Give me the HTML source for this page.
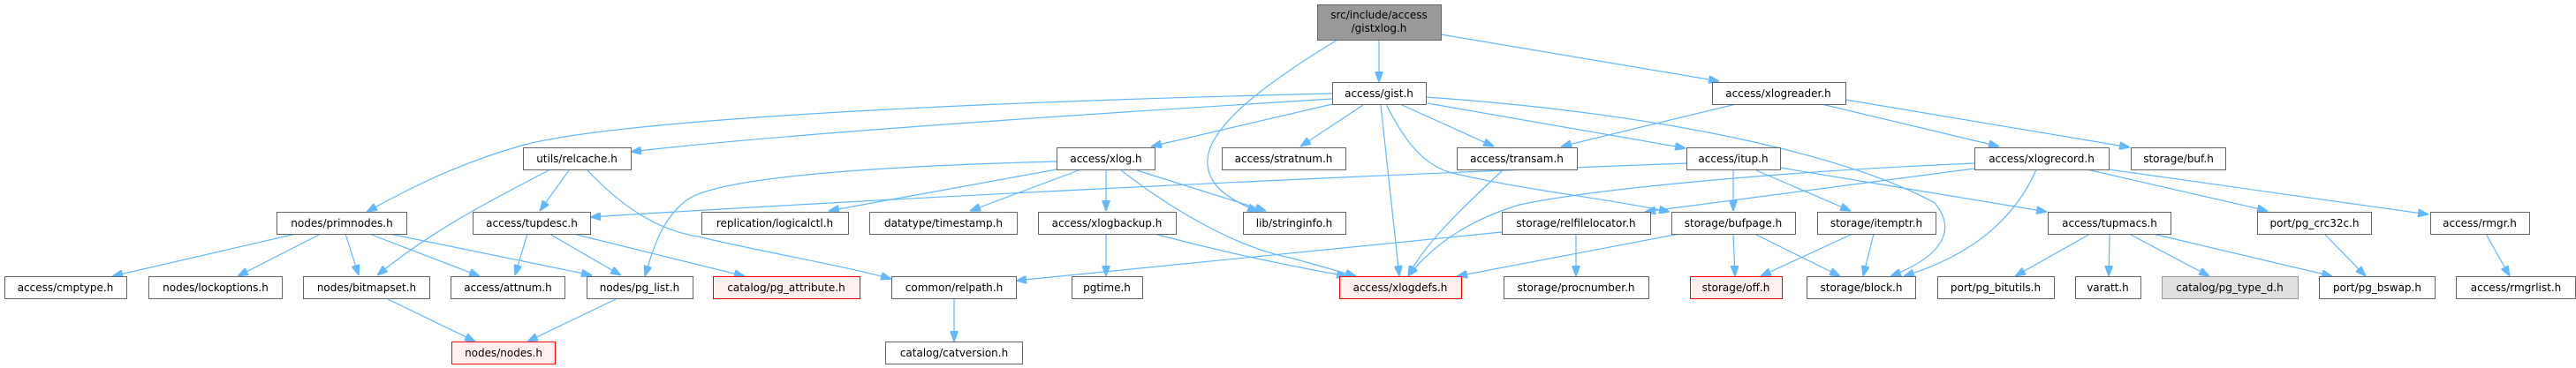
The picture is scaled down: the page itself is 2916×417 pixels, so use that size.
<!DOCTYPE html>
<html><head><meta charset="utf-8"><style>
html,body{margin:0;padding:0;background:#fff}
svg{display:block}
text{font-family:"DejaVu Sans","Liberation Sans",sans-serif;font-size:12px;fill:#000;text-anchor:middle}
.n{fill:#fff;stroke:#666;stroke-width:1}
.r{fill:#fff0f0;stroke:#f00;stroke-width:1}
.g{fill:#999;stroke:#666;stroke-width:1}
.l{fill:#e0e0e0;stroke:#999;stroke-width:1}
path{fill:none;stroke:#63b8ff;stroke-width:1.2}
</style></head><body>
<svg width="2916" height="417" viewBox="0 0 2916 417" xmlns="http://www.w3.org/2000/svg">
<defs><marker id="a" viewBox="0 0 12 9" refX="12" refY="4.5" markerWidth="12" markerHeight="9" markerUnits="userSpaceOnUse" orient="auto"><path d="M0,0 L12,4.5 L0,9 z" style="fill:#63b8ff;stroke:#63b8ff"/></marker></defs>
<g marker-end="url(#a)">
<path d="M1561,45 L1561,93"/>
<path d="M1631,39 L1946,92"/>
<path d="M1514,45 C1440,90 1370,140 1367,180 C1365,210 1390,225 1424,240"/>
<path d="M1508,112 C1300,125 900,150 714,172"/>
<path d="M1508,106 C1000,118 680,140 590,165 C520,185 470,210 415,240"/>
<path d="M1508,118 L1303,166"/>
<path d="M1543,119 L1472,166"/>
<path d="M1587,119 L1691,166"/>
<path d="M1616,117 L1908,168"/>
<path d="M1563,119 L1584,313"/>
<path d="M1569,118 C1590,160 1610,185 1640,195 C1720,215 1820,225 1890,240"/>
<path d="M1614,110 C1900,130 2100,180 2190,230 C2215,260 2200,290 2140,313"/>
<path d="M1965,118 L1767,166"/>
<path d="M2062,118 L2263,166"/>
<path d="M2089,113 L2411,167"/>
<path d="M644,193 L611,239"/>
<path d="M621,193 C560,225 490,260 427,312"/>
<path d="M665,193 C700,230 740,260 790,268 C860,285 950,300 1009,316"/>
<path d="M1196,183 C1000,188 820,200 780,225 C750,245 740,280 730,313"/>
<path d="M1196,192 L938,239"/>
<path d="M1221,193 L1098,239"/>
<path d="M1252,193 L1252,239"/>
<path d="M1287,193 L1433,239"/>
<path d="M1269,193 C1330,240 1400,280 1460,292 C1490,300 1510,306 1535,313"/>
<path d="M1909,185 C1500,200 1000,225 668,246"/>
<path d="M1962,193 L1962,239"/>
<path d="M1988,193 L2095,239"/>
<path d="M2015,190 L2317,240"/>
<path d="M2235,185 C2000,195 1800,215 1720,232 C1660,250 1620,280 1594,313"/>
<path d="M2235,191 L1862,240"/>
<path d="M2305,192 C2280,250 2230,290 2155,313"/>
<path d="M2362,192 L2567,239"/>
<path d="M2387,192 L2749,243"/>
<path d="M597,265 L583,312"/>
<path d="M622,265 L703,312"/>
<path d="M649,265 L843,313"/>
<path d="M335,265 L127,313"/>
<path d="M363,265 L269,313"/>
<path d="M391,265 L406,312"/>
<path d="M418,265 L543,313"/>
<path d="M441,265 L670,312"/>
<path d="M439,339 L538,387"/>
<path d="M697,339 L597,387"/>
<path d="M1252,265 L1252,313"/>
<path d="M1307,265 C1400,290 1480,305 1525,313"/>
<path d="M1080,339 L1080,387"/>
<path d="M1701,193 C1650,240 1610,280 1594,313"/>
<path d="M1784,265 L1784,313"/>
<path d="M1700,263 L1150,318"/>
<path d="M1901,265 L1649,313"/>
<path d="M1962,265 L1964,313"/>
<path d="M1986,265 L2083,313"/>
<path d="M2097,265 L1993,313"/>
<path d="M2121,265 L2109,313"/>
<path d="M2366,265 L2281,313"/>
<path d="M2388,265 L2387,313"/>
<path d="M2410,265 L2501,313"/>
<path d="M2437,265 L2640,313"/>
<path d="M2631,265 L2678,313"/>
<path d="M2814,265 L2841,313"/>
</g>
<rect class="g" x="1491.5" y="5.5" width="140" height="40"/><text x="1561" y="21">src/include/access</text><text x="1561" y="36">/gistxlog.h</text>
<rect class="n" x="1508.5" y="93.5" width="106" height="25"/><text x="1561" y="110">access/gist.h</text>
<rect class="n" x="1938.5" y="93.5" width="151" height="25"/><text x="2013" y="110">access/xlogreader.h</text>
<rect class="n" x="592.5" y="167.5" width="122" height="25"/><text x="653" y="184">utils/relcache.h</text>
<rect class="n" x="1196.5" y="167.5" width="111" height="25"/><text x="1252" y="184">access/xlog.h</text>
<rect class="n" x="1383.5" y="167.5" width="140" height="25"/><text x="1453" y="184">access/stratnum.h</text>
<rect class="n" x="1649.5" y="167.5" width="136" height="25"/><text x="1717" y="184">access/transam.h</text>
<rect class="n" x="1909.5" y="167.5" width="106" height="25"/><text x="1962" y="184">access/itup.h</text>
<rect class="n" x="2235.5" y="167.5" width="152" height="25"/><text x="2311" y="184">access/xlogrecord.h</text>
<rect class="n" x="2412.5" y="167.5" width="107" height="25"/><text x="2466" y="184">storage/buf.h</text>
<rect class="n" x="313.5" y="240.5" width="147" height="25"/><text x="387" y="257">nodes/primnodes.h</text>
<rect class="n" x="535.5" y="240.5" width="133" height="25"/><text x="602" y="257">access/tupdesc.h</text>
<rect class="n" x="794.5" y="240.5" width="166" height="25"/><text x="877" y="257">replication/logicalctl.h</text>
<rect class="n" x="984.5" y="240.5" width="167" height="25"/><text x="1068" y="257">datatype/timestamp.h</text>
<rect class="n" x="1175.5" y="240.5" width="156" height="25"/><text x="1253" y="257">access/xlogbackup.h</text>
<rect class="n" x="1407.5" y="240.5" width="116" height="25"/><text x="1465" y="257">lib/stringinfo.h</text>
<rect class="n" x="1700.5" y="240.5" width="168" height="25"/><text x="1784" y="257">storage/relfilelocator.h</text>
<rect class="n" x="1892.5" y="240.5" width="140" height="25"/><text x="1962" y="257">storage/bufpage.h</text>
<rect class="n" x="2057.5" y="240.5" width="134" height="25"/><text x="2124" y="257">storage/itemptr.h</text>
<rect class="n" x="2318.5" y="240.5" width="139" height="25"/><text x="2388" y="257">access/tupmacs.h</text>
<rect class="n" x="2555.5" y="240.5" width="129" height="25"/><text x="2620" y="257">port/pg_crc32c.h</text>
<rect class="n" x="2751.5" y="240.5" width="112" height="25"/><text x="2807" y="257">access/rmgr.h</text>
<rect class="n" x="5.5" y="313.5" width="138" height="25"/><text x="74" y="330">access/cmptype.h</text>
<rect class="n" x="168.5" y="313.5" width="151" height="25"/><text x="244" y="330">nodes/lockoptions.h</text>
<rect class="n" x="343.5" y="313.5" width="143" height="25"/><text x="415" y="330">nodes/bitmapset.h</text>
<rect class="n" x="510.5" y="313.5" width="129" height="25"/><text x="575" y="330">access/attnum.h</text>
<rect class="n" x="664.5" y="313.5" width="120" height="25"/><text x="724" y="330">nodes/pg_list.h</text>
<rect class="r" x="807.5" y="313.5" width="166" height="25"/><text x="890" y="330">catalog/pg_attribute.h</text>
<rect class="n" x="1009.5" y="313.5" width="141" height="25"/><text x="1080" y="330">common/relpath.h</text>
<rect class="n" x="1213.5" y="313.5" width="80" height="25"/><text x="1253" y="330">pgtime.h</text>
<rect class="r" x="1516.5" y="313.5" width="138" height="25"/><text x="1585" y="330">access/xlogdefs.h</text>
<rect class="n" x="1702.5" y="313.5" width="164" height="25"/><text x="1784" y="330">storage/procnumber.h</text>
<rect class="r" x="1913.5" y="313.5" width="104" height="25"/><text x="1965" y="330">storage/off.h</text>
<rect class="n" x="2045.5" y="313.5" width="123" height="25"/><text x="2107" y="330">storage/block.h</text>
<rect class="n" x="2193.5" y="313.5" width="132" height="25"/><text x="2259" y="330">port/pg_bitutils.h</text>
<rect class="n" x="2349.5" y="313.5" width="74" height="25"/><text x="2386" y="330">varatt.h</text>
<rect class="l" x="2447.5" y="313.5" width="154" height="25"/><text x="2524" y="330">catalog/pg_type_d.h</text>
<rect class="n" x="2625.5" y="313.5" width="131" height="25"/><text x="2691" y="330">port/pg_bswap.h</text>
<rect class="n" x="2780.5" y="313.5" width="135" height="25"/><text x="2848" y="330">access/rmgrlist.h</text>
<rect class="r" x="511.5" y="387.5" width="117" height="25"/><text x="570" y="404">nodes/nodes.h</text>
<rect class="n" x="1002.5" y="387.5" width="155" height="25"/><text x="1080" y="404">catalog/catversion.h</text>
</svg>
</body></html>
